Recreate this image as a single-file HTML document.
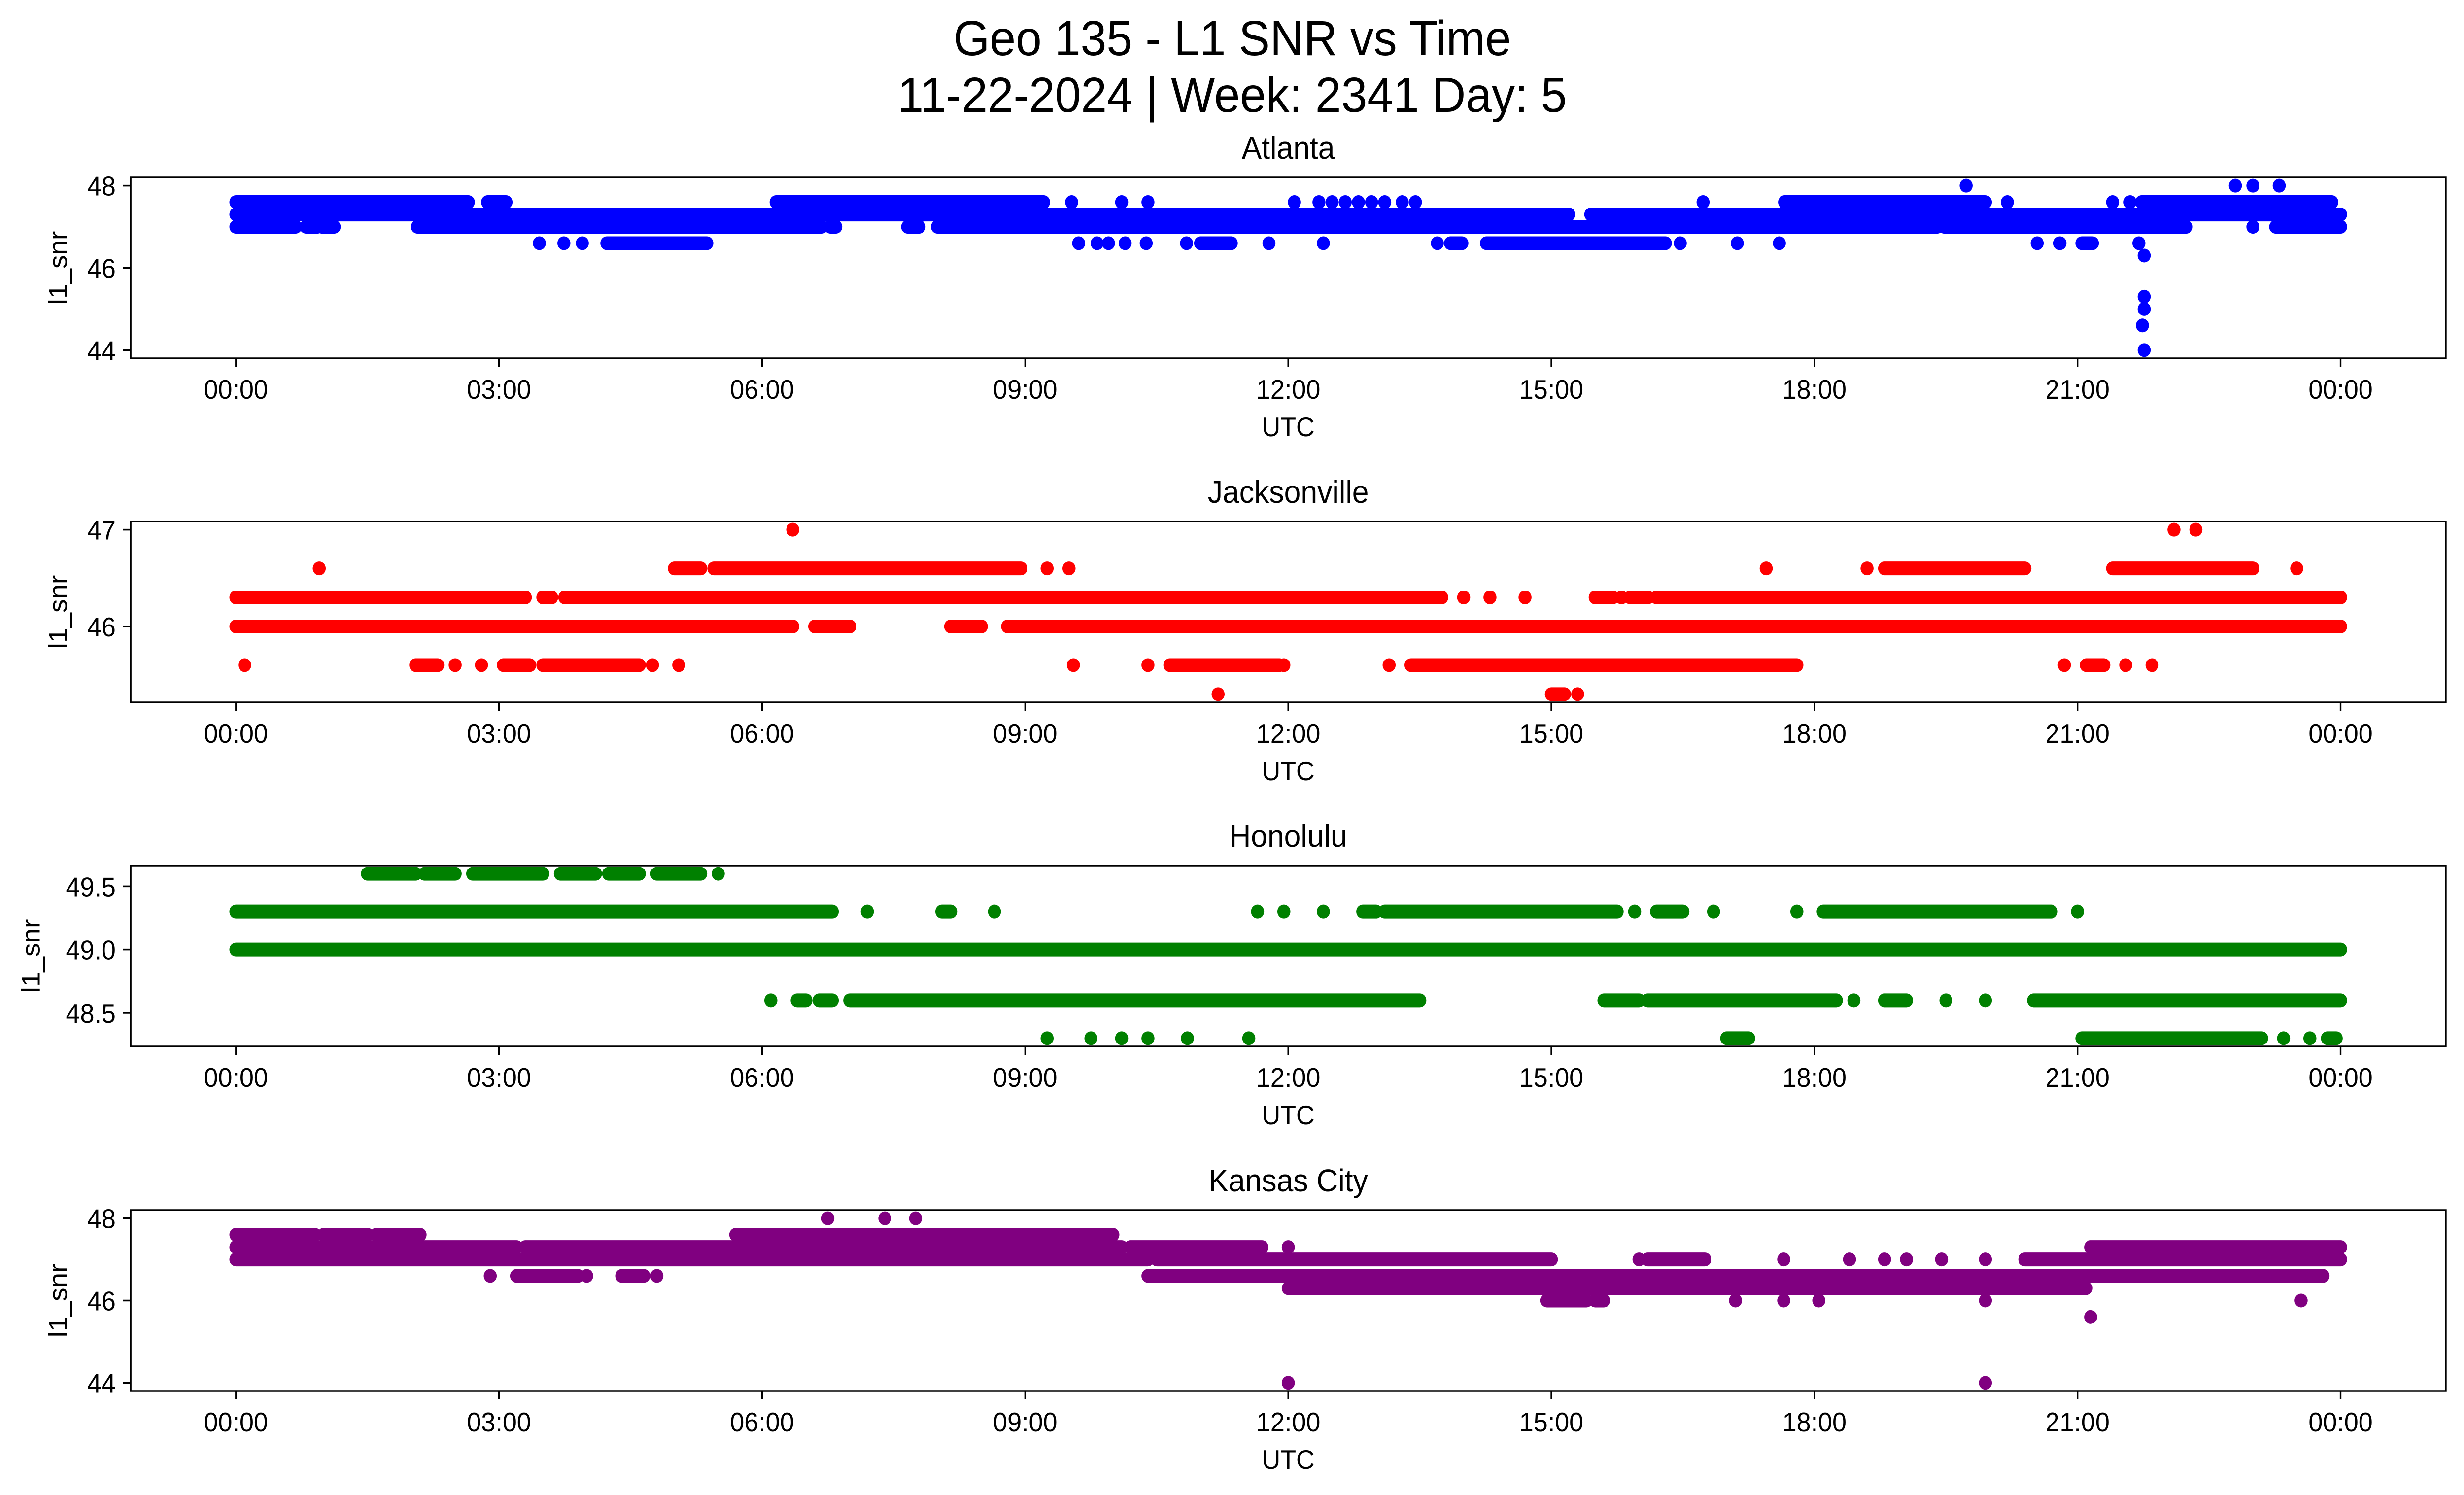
<!DOCTYPE html>
<html><head><meta charset="utf-8">
<style>
html,body{margin:0;padding:0;background:#fff;overflow:hidden;width:100%;height:100%;}
svg{display:block;position:absolute;left:0;top:0;width:100vw;height:100vh;font-family:"Liberation Sans","DejaVu Sans",sans-serif;}
</style></head>
<body>
<svg id="fig" xmlns="http://www.w3.org/2000/svg" viewBox="0 0 5279 3033" preserveAspectRatio="none">
<rect width="5279" height="3033" fill="#fff"/>
<text x="2640" y="112" font-size="100" text-anchor="middle">Geo 135 - L1 SNR vs Time</text>
<text x="2640" y="227" font-size="100" text-anchor="middle">11-22-2024 | Week: 2341 Day: 5</text>
</svg>
<script>
// Data: runs of [start hour, end hour] at SNR value (points at start==end)
const stationNames = ["Atlanta","Jacksonville","Honolulu","Kansas City"];
const stationColors = ["#0000ff","#ff0000","#008000","#800080"];
const xTickLabels = ["00:00","03:00","06:00","09:00","12:00","15:00","18:00","21:00","00:00"];
const xTickHours = [0,3,6,9,12,15,18,21,24];
const yTicksAtl = [44,46,48];
const yTicksJax = [46,47];
const yTicksHnl = [48.5,49.0,49.5];
const yTicksMci = [44,46,48];
const yTickLabelsAtl = ["44","46","48"];
const yTickLabelsJax = ["46","47"];
const yTickLabelsHnl = ["48.5","49.0","49.5"];
const yTickLabelsMci = ["44","46","48"];
const yLimsAtl = [43.8,48.2];
const yLimsJax = [45.215,47.085];
const yLimsHnl = [48.235,49.665];
const yLimsMci = [43.8,48.2];

const atlStart = [0,2.87,6.16,9.53,10.1,10.4,12.07,12.35,12.5,12.65,12.8,12.95,13.1,13.3,13.45,16.73,17.66,20.2,21.4,21.6,21.73, 19.73,22.8,23.0,23.3, 0,15.45, 0,0.8,0.98,2.07,6.78,7.66,8.0,19.48,23.0,23.26, 3.46,3.74,3.95,4.23,9.61,9.82,9.95,10.14,10.38,10.84,11.0,11.78,12.4,13.7,13.85,14.26,16.47,17.12,17.6,20.54,20.8,21.05,21.7, 21.76,21.76,21.76,21.74,21.76];
const atlEnd   = [2.65,3.08,9.21,9.53,10.1,10.4,12.07,12.35,12.5,12.65,12.8,12.95,13.1,13.3,13.45,16.73,19.95,20.2,21.4,21.6,23.9, 19.73,22.8,23.0,23.3, 15.2,24, 0.68,0.93,1.12,6.68,6.84,7.79,19.4,22.24,23.0,24, 3.46,3.74,3.95,5.37,9.61,9.82,9.95,10.14,10.38,10.84,11.35,11.78,12.4,13.7,13.98,16.3,16.47,17.12,17.6,20.54,20.8,21.17,21.7, 21.76,21.76,21.76,21.74,21.76];
const atlValue = [47.6,47.6,47.6,47.6,47.6,47.6,47.6,47.6,47.6,47.6,47.6,47.6,47.6,47.6,47.6,47.6,47.6,47.6,47.6,47.6,47.6, 48,48,48,48, 47.3,47.3, 47,47,47,47,47,47,47,47,47,47, 46.6,46.6,46.6,46.6,46.6,46.6,46.6,46.6,46.6,46.6,46.6,46.6,46.6,46.6,46.6,46.6,46.6,46.6,46.6,46.6,46.6,46.6,46.6, 46.3,45.3,45.0,44.6,44.0];

const jaxStart = [0,3.5,3.75,14.0,14.3,14.7,15.5,15.8,15.9,16.2, 0,6.6,8.15,8.8, 0.95,5.0,5.45,9.25,9.5,17.45,18.6,18.8,21.4,23.5, 6.35,22.1,22.35, 0.1,2.05,2.5,2.8,3.05,3.5,4.75,5.05,9.55,10.4,10.65,11.95,13.15,13.4,20.85,21.1,21.55,21.85, 11.2,15.0,15.3];
const jaxEnd   = [3.3,3.6,13.75,14.0,14.3,14.7,15.7,15.8,16.1,24, 6.35,7.0,8.5,24, 0.95,5.3,8.95,9.25,9.5,17.45,18.6,20.4,23.0,23.5, 6.35,22.1,22.35, 0.1,2.3,2.5,2.8,3.35,4.6,4.75,5.05,9.55,10.4,11.9,11.95,13.15,17.8,20.85,21.3,21.55,21.85, 11.2,15.15,15.3];
const jaxValue = [46.3,46.3,46.3,46.3,46.3,46.3,46.3,46.3,46.3,46.3, 46,46,46,46, 46.6,46.6,46.6,46.6,46.6,46.6,46.6,46.6,46.6,46.6, 47,47,47, 45.6,45.6,45.6,45.6,45.6,45.6,45.6,45.6,45.6,45.6,45.6,45.6,45.6,45.6,45.6,45.6,45.6,45.6, 45.3,45.3,45.3];

const hnlStart = [0,7.2,8.05,8.65,11.65,11.95,12.4,12.85,13.1,15.95,16.2,16.85,17.8,18.1,21.0, 1.5,2.15,2.7,3.7,4.25,4.8,5.5, 0, 6.1,6.4,6.65,7.0,15.6,16.1,18.45,18.8,19.5,19.95,20.5, 9.25,9.75,10.1,10.4,10.85,11.55,17.0,21.05,23.35,23.65,23.85];
const hnlEnd   = [6.8,7.2,8.15,8.65,11.65,11.95,12.4,13.0,15.75,15.95,16.5,16.85,17.8,20.7,21.0, 2.05,2.5,3.5,4.1,4.6,5.3,5.5, 24, 6.1,6.5,6.8,13.5,16.0,18.25,18.45,19.05,19.5,19.95,24, 9.25,9.75,10.1,10.4,10.85,11.55,17.25,23.1,23.35,23.65,23.95];
const hnlValue = [49.3,49.3,49.3,49.3,49.3,49.3,49.3,49.3,49.3,49.3,49.3,49.3,49.3,49.3,49.3, 49.6,49.6,49.6,49.6,49.6,49.6,49.6, 49.0, 48.6,48.6,48.6,48.6,48.6,48.6,48.6,48.6,48.6,48.6,48.6, 48.3,48.3,48.3,48.3,48.3,48.3,48.3,48.3,48.3,48.3,48.3];

const mciStart = [0,1.0,1.6,5.7, 0,3.3,10.2,12.0,21.15, 0,10.5,16.0,16.1,17.65,18.4,18.8,19.05,19.45,19.95,20.4, 2.9,3.2,4.0,4.4,4.8,10.4, 12.0, 14.95,15.5,17.1,17.65,18.05,19.95,23.55, 21.15, 6.75,7.4,7.75, 12.0,19.95];
const mciEnd   = [0.9,1.5,2.1,10.0, 3.2,10.1,11.7,12.0,24, 10.4,15.0,16.0,16.75,17.65,18.4,18.8,19.05,19.45,19.95,24, 2.9,3.9,4.0,4.65,4.8,23.8, 21.1, 15.4,15.6,17.1,17.65,18.05,19.95,23.55, 21.15, 6.75,7.4,7.75, 12.0,19.95];
const mciValue = [47.6,47.6,47.6,47.6, 47.3,47.3,47.3,47.3,47.3, 47,47,47,47,47,47,47,47,47,47,47, 46.6,46.6,46.6,46.6,46.6,46.6, 46.3, 46,46,46,46,46,46,46, 45.6, 48,48,48, 44,44];

const NS="http://www.w3.org/2000/svg";
const svg=document.getElementById('fig');
const X0=280,X1=5240,H=367;
const tops=[360,1058,1756,2455];
const xMin=-1.2,xMax=25.2;
function xs(h){return X0+(h-xMin)/(xMax-xMin)*(X1-X0);}
function mk(tag,attrs,parent){const e=document.createElementNS(NS,tag);for(const k in attrs)e.setAttribute(k,attrs[k]);(parent||svg).appendChild(e);return e;}

const panels=[
 [atlStart,atlEnd,atlValue,yLimsAtl,yTicksAtl,yTickLabelsAtl,125],
 [jaxStart,jaxEnd,jaxValue,yLimsJax,yTicksJax,yTickLabelsJax,125],
 [hnlStart,hnlEnd,hnlValue,yLimsHnl,yTicksHnl,yTickLabelsHnl,67],
 [mciStart,mciEnd,mciValue,yLimsMci,yTicksMci,yTickLabelsMci,125]
];
panels.forEach((p,i)=>{
 const top=tops[i],bot=top+H;
 const [st,en,val,yl,yt,ytl,ylx]=p;
 const ys=v=>bot-(v-yl[0])/(yl[1]-yl[0])*H;
 const g=mk('g',{});
 
 
 const t=mk('text',{x:(X0+X1)/2,y:top-38,'font-size':64,'text-anchor':'middle'},g);
 
 
 t.textContent=stationNames[i];
 const pts=mk('g',{fill:stationColors[i],stroke:stationColors[i]},g);
 
 
 for(let k=0;k<st.length;k++){
  const xa=xs(st[k]),xb=xs(en[k]),y=ys(val[k]);
  let m;
  if(Math.abs(xb-xa)<0.5){m=mk('circle',{cx:xa,cy:y,r:14,stroke:'none'},pts);}
  else{m=mk('line',{x1:xa,y1:y,x2:xb,y2:y,'stroke-width':28,'stroke-linecap':'round'},pts);}
  
  
 }
 const fr=mk('rect',{x:X0,y:top,width:X1-X0,height:H,fill:'none',stroke:'#000','stroke-width':3.5},g);
 
 
 xTickHours.forEach((h,j)=>{
  const x=xs(h);
  const tk=mk('line',{x1:x,y1:bot,x2:x,y2:bot+17,stroke:'#000','stroke-width':3.5},g);
  
  
  const tl=mk('text',{x:x,y:bot+82,'font-size':55,'text-anchor':'middle'},g);
  
  
  tl.textContent=xTickLabels[j];
 });
 yt.forEach((v,j)=>{
  const y=ys(v);
  const tk=mk('line',{x1:X0,y1:y,x2:X0-17,y2:y,stroke:'#000','stroke-width':3.5},g);
  
  
  const tl=mk('text',{x:X0-32,y:y+20,'font-size':55,'text-anchor':'end'},g);
  
  
  tl.textContent=ytl[j];
 });
 const xl=mk('text',{x:(X0+X1)/2,y:bot+158,'font-size':55,'text-anchor':'middle'},g);
 
 
 xl.textContent='UTC';
 const yc=top+H/2;
 const yl2=mk('text',{x:ylx,y:yc,'font-size':55,'text-anchor':'middle',transform:'rotate(-90 '+ylx+' '+yc+')','dominant-baseline':'central'},g);
 
 
 yl2.textContent='l1_snr';
});
</script>
</body></html>
